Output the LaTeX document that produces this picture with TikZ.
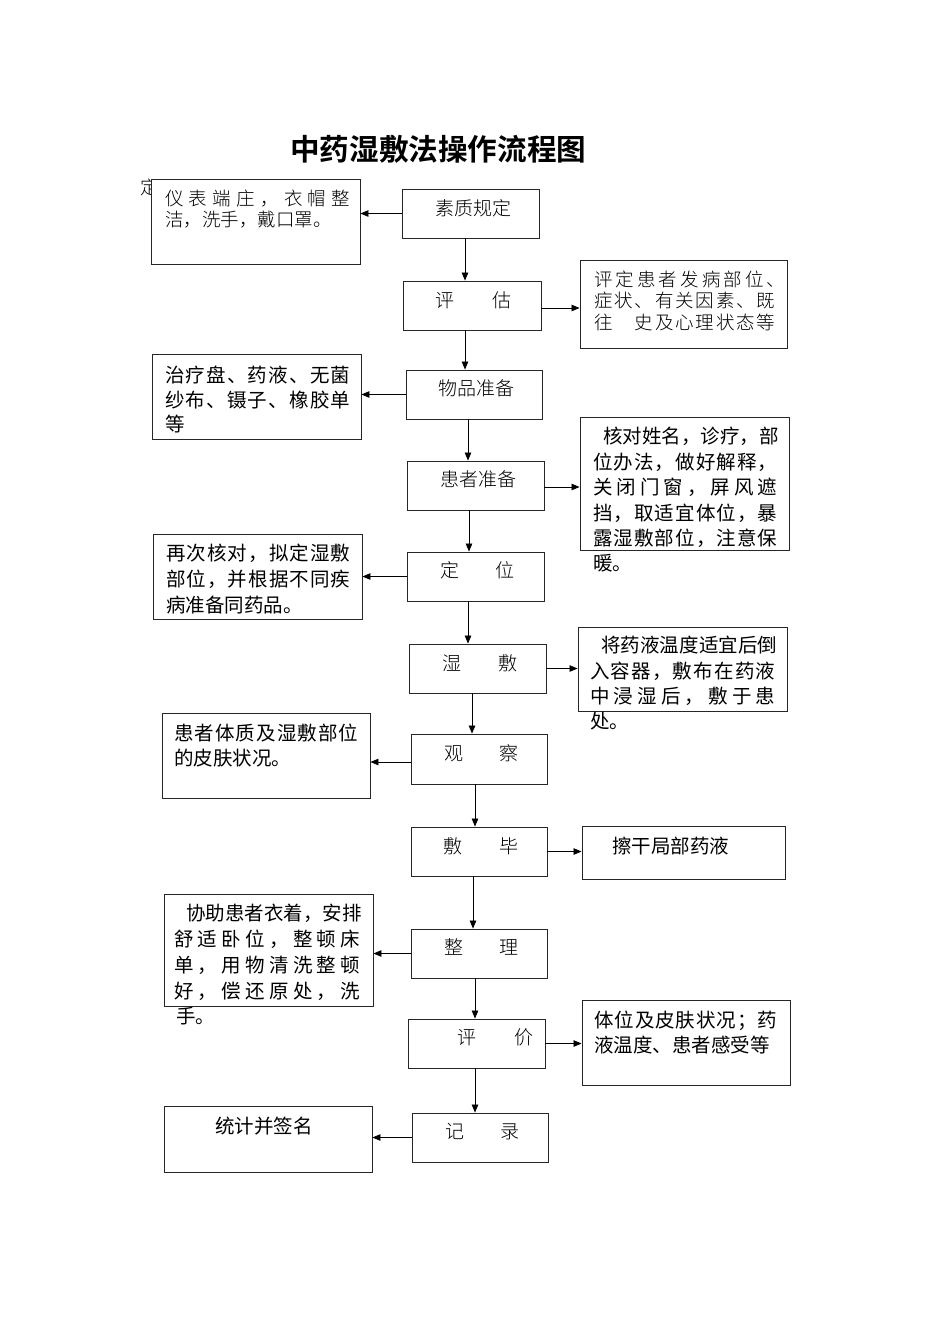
\documentclass[tikz,border=0pt]{standalone}
\usepackage{fontspec}
\usetikzlibrary{arrows.meta}
\newfontfamily\cjk{Noto Sans CJK SC}
\IfFontExistsTF{Noto Sans CJK SC Light}{\newfontfamily\cjkl{Noto Sans CJK SC Light}}{\newfontfamily\cjkl{Noto Sans CJK SC}}
\IfFontExistsTF{Noto Sans CJK SC Bold}{\newfontfamily\cjkb{Noto Sans CJK SC Bold}}{\newfontfamily\cjkb[FakeBold=2]{Noto Sans CJK SC}}
\makeatletter
\newcommand\spreadline[2]{\hbox to #1{\def\sl@sep{}\@tfor\sl@c:=#2\do{\sl@sep\sl@c\def\sl@sep{\hfil}}}}
\makeatother
\begin{document}
\begin{tikzpicture}[x=1pt,y=-1pt,
  box/.style={draw=black!85, line width=0.9pt, fill=white, inner sep=0pt},
  arr/.style={-{Triangle[length=8pt,width=6.5pt]}, line width=0.8pt},
  lab/.style={anchor=west, inner sep=0pt, font=\cjkl\fontsize{19}{21}\selectfont},
  lighttxt/.style={anchor=north west, inner sep=0pt, align=left, font=\cjkl\fontsize{18.5}{21}\selectfont},
  darktxt/.style={anchor=north west, inner sep=0pt, align=left, font=\cjk\fontsize{19.5}{25}\selectfont},
  darkone/.style={anchor=west, inner sep=0pt, font=\cjk\fontsize{19.5}{25}\selectfont}]
\useasboundingbox (0,0) rectangle (950,1344);

% title
\node[anchor=west, inner sep=0pt, font=\cjkb\fontsize{29.6}{32}\selectfont] (title) at (290,149) {中药湿敷法操作流程图};

% partially hidden glyph
\node[anchor=west, inner sep=0pt, font=\cjkl\fontsize{18.5}{21}\selectfont] (hid) at (140,187) {定};

% centre column
\node[box, minimum width=137pt, minimum height=49pt] (s1) at (470.5,213.5) {};
\node[box, minimum width=138pt, minimum height=49pt] (s2) at (472,305.5) {};
\node[box, minimum width=136pt, minimum height=49pt] (s3) at (474,394.5) {};
\node[box, minimum width=137pt, minimum height=49pt] (s4) at (475.5,485.5) {};
\node[box, minimum width=137pt, minimum height=49pt] (s5) at (475.5,576.5) {};
\node[box, minimum width=137pt, minimum height=49pt] (s6) at (477.5,668.5) {};
\node[box, minimum width=136pt, minimum height=50pt] (s7) at (479,759) {};
\node[box, minimum width=136pt, minimum height=49pt] (s8) at (479,851.5) {};
\node[box, minimum width=136pt, minimum height=49pt] (s9) at (479,953.5) {};
\node[box, minimum width=137pt, minimum height=49pt] (s10) at (476.5,1043.5) {};
\node[box, minimum width=136pt, minimum height=49pt] (s11) at (480,1137.5) {};

\node[lab] (l1) at (435,208) {素质规定};
\node[lab] (l2) at (435,300) {\spreadline{76pt}{评估}};
\node[lab] (l3) at (438,388) {物品准备};
\node[lab] (l4) at (440,479) {患者准备};
\node[lab] (l5) at (440,570) {\spreadline{74pt}{定位}};
\node[lab] (l6) at (442,663) {\spreadline{75pt}{湿敷}};
\node[lab] (l7) at (444,753) {\spreadline{74pt}{观察}};
\node[lab] (l8) at (443,846) {\spreadline{75pt}{敷毕}};
\node[lab] (l9) at (444,947) {\spreadline{74pt}{整理}};
\node[lab] (l10) at (457,1037) {\spreadline{76pt}{评价}};
\node[lab] (l11) at (445,1132) {\spreadline{74pt}{记录}};

% left boxes
\node[box, minimum width=209pt, minimum height=85pt] (L1) at (255.5,221.5) {};
\node[box, minimum width=209pt, minimum height=85pt] (L2) at (256.5,396.5) {};
\node[box, minimum width=209pt, minimum height=85pt] (L3) at (257.5,576.5) {};
\node[box, minimum width=208pt, minimum height=85pt] (L4) at (266,755.5) {};
\node[box, minimum width=209pt, minimum height=112pt] (L5) at (268.5,950) {};
\node[box, minimum width=208pt, minimum height=66pt] (L6) at (268,1139) {};

% right boxes
\node[box, minimum width=207pt, minimum height=88pt] (R1) at (683.5,304) {};
\node[box, minimum width=209pt, minimum height=133pt] (R2) at (684.5,483.5) {};
\node[box, minimum width=209pt, minimum height=84pt] (R3) at (682.5,669) {};
\node[box, minimum width=203pt, minimum height=53pt] (R4) at (683.5,852.5) {};
\node[box, minimum width=208pt, minimum height=85pt] (R5) at (686,1042.5) {};

% texts in side boxes
\node[lighttxt] (t1) at (165,189.7) {\spreadline{185pt}{仪表端庄，衣帽整}\\洁，洗手，戴口罩。};
\node[lighttxt, font=\cjkl\fontsize{18.5}{21.5}\selectfont] (t2) at (594,270.7) {\spreadline{191pt}{评定患者发病部位、}\\\spreadline{181pt}{症状、有关因素、既}\\\spreadline{181pt}{往{\hspace{18.5pt}}史及心理状态等}};
\node[darktxt, font=\cjk\fontsize{19.5}{24.5}\selectfont] (t3) at (165,366.2) {\spreadline{185pt}{治疗盘、药液、无菌}\\\spreadline{185pt}{纱布、镊子、橡胶单}\\等};
\node[darktxt, font=\cjk\fontsize{19.5}{25.4}\selectfont] (t4) at (593,427.2) {\hspace{10pt}\spreadline{174pt}{核对姓名，诊疗，部}\\\spreadline{184pt}{位办法，做好解释，}\\\spreadline{184pt}{关闭门窗，屏风遮}\\\spreadline{184pt}{挡，取适宜体位，暴}\\\spreadline{184pt}{露湿敷部位，注意保}\\暖。};
\node[darktxt, font=\cjk\fontsize{19.5}{26}\selectfont] (t5) at (166,544.2) {\spreadline{184pt}{再次核对，拟定湿敷}\\\spreadline{184pt}{部位，并根据不同疾}\\病准备同药品。};
\node[darktxt, font=\cjk\fontsize{19.5}{25.3}\selectfont] (t6) at (590,636.2) {\hspace{11pt}\spreadline{176pt}{将药液温度适宜后倒}\\\spreadline{185pt}{入容器，敷布在药液}\\\spreadline{185pt}{中浸湿后，敷于患}\\处。};
\node[darktxt] (t7) at (174,724.2) {\spreadline{184pt}{患者体质及湿敷部位}\\的皮肤状况。};
\node[darkone] (t8) at (612,846) {擦干局部药液};
\node[darktxt, font=\cjk\fontsize{19.5}{25.75}\selectfont] (t9) at (174,904.2) {\hspace{12pt}\spreadline{175.5pt}{协助患者衣着，安排}\\\spreadline{186pt}{舒适卧位，整顿床}\\\spreadline{186pt}{单，用物清洗整顿}\\\spreadline{186pt}{好，偿还原处，洗}\\\hspace{2pt}手。};
\node[darktxt] (t10) at (594,1011.2) {\spreadline{183pt}{体位及皮肤状况；药}\\液温度、患者感受等};
\node[darkone] (t11) at (215,1126) {统计并签名};

% vertical arrows
\draw[arr] ([xshift=-5.5pt]s1.south) -- ([xshift=-5.5pt]s1.south |- s2.north);
\draw[arr] ([xshift=-7pt]s2.south) -- ([xshift=-7pt]s2.south |- s3.north);
\draw[arr] ([xshift=-6pt]s3.south) -- ([xshift=-6pt]s3.south |- s4.north);
\draw[arr] ([xshift=-6.5pt]s4.south) -- ([xshift=-6.5pt]s4.south |- s5.north);
\draw[arr] ([xshift=-7.5pt]s5.south) -- ([xshift=-7.5pt]s5.south |- s6.north);
\draw[arr] ([xshift=-5.5pt]s6.south) -- ([xshift=-5.5pt]s6.south |- s7.north);
\draw[arr] ([xshift=-4pt]s7.south) -- ([xshift=-4pt]s7.south |- s8.north);
\draw[arr] ([xshift=-6pt]s8.south) -- ([xshift=-6pt]s8.south |- s9.north);
\draw[arr] ([xshift=-4pt]s9.south) -- ([xshift=-4pt]s9.south |- s10.north);
\draw[arr] ([xshift=-1.5pt]s10.south) -- ([xshift=-1.5pt]s10.south |- s11.north);

% left arrows
\draw[arr] (s1.west) -- (s1.west -| L1.east);
\draw[arr] (s3.west) -- (s3.west -| L2.east);
\draw[arr] (s5.west) -- (s5.west -| L3.east);
\draw[arr] ([yshift=-3pt]s7.west) -- ([yshift=-3pt]s7.west -| L4.east);
\draw[arr] (s9.west) -- (s9.west -| L5.east);
\draw[arr] (s11.west) -- (s11.west -| L6.east);

% right arrows
\draw[arr] ([yshift=-2.5pt]s2.east) -- ([yshift=-2.5pt]s2.east -| R1.west);
\draw[arr] ([yshift=-1.5pt]s4.east) -- ([yshift=-1.5pt]s4.east -| R2.west);
\draw[arr] (s6.east) -- (s6.east -| R3.west);
\draw[arr] (s8.east) -- (s8.east -| R4.west);
\draw[arr] (s10.east) -- (s10.east -| R5.west);
\end{tikzpicture}
\end{document}
